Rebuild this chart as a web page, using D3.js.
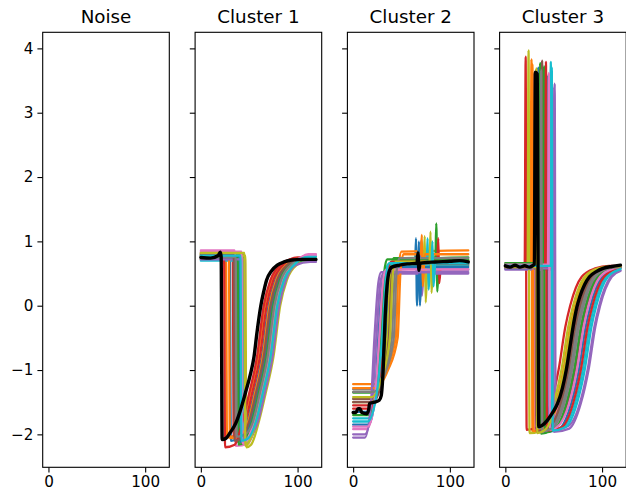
<!DOCTYPE html>
<html>
<head>
<meta charset="utf-8">
<script src="https://cdn.jsdelivr.net/npm/d3@7"></script>
<style>
html,body{margin:0;padding:0;background:#fff;}
svg{display:block;}
text{font-family:"DejaVu Sans",sans-serif;fill:#000;}
</style>
</head>
<body>
<svg id="chart" width="626" height="502"></svg>
<script>
// ---------------- DATA ----------------
const panelTitles = ["Noise", "Cluster 1", "Cluster 2", "Cluster 3"];
const xTicks = [0, 100];
const yTicks = [-2, -1, 0, 1, 2, 3, 4];
const xDomain = [-5.95, 124.95];
const yDomain = [-2.512, 4.25];

// Noise: no waveforms
const noiseLines = [];
const noiseMean = [];

// Cluster 1 waveforms ([sample, value] key points)
const cluster1Lines = [
  [[0,.78],[30,.78],[31,-2.10],[40,-2.06],[48,-1.8],[55,-1.36],[63,-0.8],[70,0],[77,.4],[87,.63],[102,.74],[119,.74]],
  [[0,.72],[26,.72],[27,-2.05],[36,-2.01],[44,-1.8],[51,-1.36],[59,-.8],[66,0],[73,.4],[83,.63],[98,.70],[119,.70]],
  [[0,.80],[44,.80],[45,-2.15],[50,-2.11],[58,-1.8],[65,-1.36],[73,-.8],[80,0],[87,.4],[97,.63],[112,.72],[119,.72]],
  [[0,.76],[33,.76],[34,-2.05],[38,-2.01],[46,-1.8],[53,-1.36],[61,-.8],[68,0],[75,.4],[85,.63],[100,.75],[119,.75]],
  [[0,.74],[37,.74],[38,-2.12],[46,-2.08],[54,-1.8],[61,-1.36],[69,-.8],[76,0],[83,.4],[93,.63],[108,.70],[119,.70]],
  [[0,.82],[41,.82],[42,-2.08],[47,-2.04],[55,-1.8],[62,-1.36],[70,-.8],[77,0],[84,.4],[94,.63],[109,.73],[119,.73]],
  [[0,.86],[35,.86],[36,-2.18],[49,-2.14],[57,-1.8],[64,-1.36],[72,-.8],[79,0],[86,.4],[96,.63],[111,.80],[119,.80]],
  [[0,.72],[39,.72],[40,-2.10],[44,-2.06],[52,-1.8],[59,-1.36],[67,-.8],[74,0],[81,.4],[91,.63],[106,.71],[119,.71]],
  [[0,.78],[46,.78],[47,-2.20],[52,-2.16],[60,-1.8],[67,-1.36],[75,-.8],[82,0],[89,.4],[99,.63],[114,.72],[119,.72]],
  [[0,.70],[43,.70],[44,-2.06],[48,-2.02],[56,-1.8],[63,-1.36],[71,-.8],[78,0],[85,.4],[95,.63],[110,.76],[119,.76]],
  [[0,.76],[40,.76],[41,-2.12],[44,-2.08],[51,-1.8],[58,-1.36],[66,-.8],[73,0],[80,.4],[90,.63],[105,.72],[119,.72]],
  [[0,.80],[29,.80],[30,-2.06],[41,-2.02],[49,-1.8],[56,-1.36],[64,-.8],[71,0],[78,.4],[88,.63],[103,.74],[119,.74]],
  [[0,.74],[38,.74],[39,-2.16],[45,-2.12],[53,-1.8],[60,-1.36],[68,-.8],[75,0],[82,.4],[92,.63],[107,.70],[119,.70]],
  [[0,.78],[24,.78],[25,-2.20],[35,-2.16],[43,-1.8],[50,-1.36],[58,-.8],[65,0],[72,.4],[82,.63],[97,.73],[119,.73]],
  [[0,.72],[45,.72],[46,-2.08],[51,-2.04],[59,-1.8],[66,-1.36],[74,-.8],[81,0],[88,.4],[98,.63],[113,.68],[119,.68]],
  [[0,.80],[34,.80],[35,-2.10],[42,-2.06],[50,-1.8],[57,-1.36],[65,-.8],[72,0],[79,.4],[89,.63],[104,.74],[119,.74]],
  [[0,.84],[42,.84],[43,-2.14],[47,-2.10],[55,-1.8],[62,-1.36],[70,-.8],[77,0],[84,.4],[94,.63],[109,.78],[119,.78]],
  [[0,.76],[36,.76],[37,-2.04],[46,-2.0],[54,-1.8],[61,-1.36],[69,-.8],[76,0],[83,.4],[93,.63],[108,.72],[119,.72]],
  [[0,.82],[45,.82],[46,-2.18],[49,-2.14],[57,-1.8],[64,-1.36],[72,-.8],[79,0],[86,.4],[96,.63],[111,.75],[119,.75]],
  [[0,.78],[41,.78],[42,-2.10],[49,-2.06],[57,-1.8],[64,-1.36],[72,-.8],[79,0],[86,.4],[96,.63],[111,.76],[119,.76]]
];
const cluster1Mean = [[0,.75],[10,.74],[18,.78],[20,.83],[21,.76],[22,-2.08],[26,-2.06],[30,-1.98],[36,-1.83],[41,-1.62],[46,-1.36],[51,-1.08],[55,-0.79],[58,-0.42],[62,0],[65,0.22],[68,0.40],[73,0.54],[79,0.63],[86,0.68],[94,0.71],[105,0.72],[119,0.72]];

// Cluster 2 waveforms
const cluster2Lines = [
  [[0,-1.85],[16,-1.85],[22,-1.5],[26,-0.5],[30,0.35],[33,0.55],[64,0.58],[65,1.05],[66,0.0],[68,0.56],[119,0.56]],
  [[0,-1.22],[22,-1.22],[34,-1.0],[44,-0.5],[47,0.6],[50,0.84],[119,0.86]],
  [[0,-1.35],[20,-1.35],[29,-1.05],[36,-0.5],[39,0.5],[42,0.74],[85,0.75],[86,1.28],[87,0.22],[89,0.74],[119,0.75]],
  [[0,-1.55],[18,-1.55],[26,-1.2],[31,-0.5],[34,0.45],[37,0.65],[87,0.66],[88,1.05],[89,0.35],[91,0.66],[119,0.66]],
  [[0,-2.0],[12,-2.0],[19,-1.6],[24,-0.5],[28,0.35],[31,0.5],[69,0.5],[70,1.0],[71,0.15],[73,0.5],[119,0.5]],
  [[0,-1.45],[19,-1.45],[28,-1.1],[34,-0.5],[37,0.45],[40,0.62],[119,0.62]],
  [[0,-1.92],[14,-1.92],[22,-1.5],[28,-0.5],[32,0.4],[35,0.58],[119,0.58]],
  [[0,-1.3],[21,-1.3],[32,-1.05],[40,-0.5],[43,0.5],[46,0.7],[119,0.7]],
  [[0,-1.5],[18,-1.5],[28,-1.15],[35,-0.5],[38,0.45],[41,0.7],[73,0.7],[74,1.08],[75,0.05],[77,0.68],[119,0.7]],
  [[0,-1.75],[16,-1.75],[24,-1.35],[30,-0.5],[33,0.45],[36,0.64],[76,0.64],[77,1.05],[78,0.25],[80,0.64],[119,0.64]],
  [[0,-1.65],[17,-1.65],[26,-1.25],[33,-0.5],[36,0.42],[38,0.6],[67,0.6],[68,1.0],[69,0.0],[71,0.6],[119,0.6]],
  [[0,-1.28],[22,-1.28],[36,-1.0],[46,-0.5],[49,0.55],[52,0.8],[70,0.8],[71,1.1],[72,0.3],[74,0.8],[119,0.8]],
  [[0,-1.7],[16,-1.7],[24,-1.3],[29,-0.5],[32,0.5],[35,0.72],[119,0.72]],
  [[0,-1.6],[18,-1.6],[26,-1.2],[32,-0.5],[36,0.5],[39,0.68],[119,0.68]],
  [[0,-2.05],[12,-2.05],[18,-1.6],[22,-0.5],[26,0.35],[29,0.52],[119,0.52]],
  [[0,-1.5],[20,-1.5],[30,-1.15],[37,-0.5],[40,0.45],[43,0.65],[119,0.65]],
  [[0,-1.88],[15,-1.88],[22,-1.5],[27,-0.5],[31,0.4],[34,0.56],[119,0.56]],
  [[0,-1.34],[21,-1.34],[33,-1.05],[42,-0.5],[45,0.55],[48,0.74],[119,0.74]],
  [[0,-1.42],[19,-1.42],[30,-1.1],[38,-0.5],[41,0.5],[44,0.68],[79,0.68],[80,1.15],[81,0.2],[83,0.68],[119,0.68]],
  [[0,-1.8],[15,-1.8],[24,-1.4],[30,-0.5],[34,0.45],[37,0.66],[81,0.66],[82,1.0],[83,0.3],[85,0.66],[119,0.66]]
];
const cluster2Mean = [[0,-1.66],[3,-1.66],[5,-1.6],[7,-1.6],[9,-1.66],[14,-1.68],[16,-1.62],[17,-1.52],[22,-1.5],[27,-1.47],[29,-1.4],[31,-1.0],[33,-0.2],[35,0.3],[37,0.52],[40,0.6],[48,0.63],[56,0.65],[66,0.66],[67,0.82],[68,0.55],[69,0.66],[85,0.68],[100,0.69],[110,0.7],[119,0.68]];

// Cluster 3 waveforms
const cluster3Lines = [
  [[0,.62],[33,.62],[34,3.70],[35,-1.95],[48,-1.9],[60,-1.52],[68,-1.0],[75,-.33],[80,0],[92,.45],[106,.58],[119,.6]],
  [[0,.58],[26,.58],[27,3.83],[28,-1.96],[40,-1.91],[52,-1.52],[60,-1.0],[67,-.33],[72,0],[84,.45],[98,.58],[112,.61],[119,.61]],
  [[0,.60],[35,.60],[36,3.77],[37,-1.99],[46,-1.94],[58,-1.52],[66,-1.0],[73,-.33],[78,0],[90,.45],[104,.58],[118,.6],[119,.6]],
  [[0,.64],[20,.64],[21,3.87],[22,-1.93],[35,-1.88],[47,-1.52],[55,-1.0],[62,-.33],[67,0],[79,.45],[93,.58],[107,.62],[119,.62]],
  [[0,.56],[50,.56],[51,3.45],[52,-1.92],[65,-1.87],[77,-1.52],[85,-1.0],[92,-.33],[97,0],[109,.45],[119,.55]],
  [[0,.62],[37,.62],[38,3.81],[39,-1.95],[52,-1.9],[64,-1.52],[72,-1.0],[79,-.33],[84,0],[96,.45],[110,.58],[119,.6]],
  [[0,.66],[28,.66],[29,3.60],[30,-1.94],[44,-1.89],[56,-1.52],[64,-1.0],[71,-.33],[76,0],[88,.45],[102,.58],[116,.62],[119,.62]],
  [[0,.60],[32,.60],[33,3.65],[34,-1.97],[47,-1.92],[59,-1.52],[67,-1.0],[74,-.33],[79,0],[91,.45],[105,.58],[119,.6]],
  [[0,.62],[23,.62],[24,3.97],[25,-1.98],[38,-1.93],[50,-1.52],[58,-1.0],[65,-.33],[70,0],[82,.45],[96,.58],[110,.61],[119,.61]],
  [[0,.64],[46,.64],[47,3.79],[48,-1.93],[60,-1.88],[72,-1.52],[80,-1.0],[87,-.33],[92,0],[104,.45],[118,.58],[119,.58]],
  [[0,.58],[42,.58],[43,3.58],[44,-1.96],[56,-1.91],[68,-1.52],[76,-1.0],[83,-.33],[88,0],[100,.45],[114,.58],[119,.59]],
  [[0,.62],[27,.62],[28,3.75],[29,-1.95],[42,-1.9],[54,-1.52],[62,-1.0],[69,-.33],[74,0],[86,.45],[100,.58],[114,.61],[119,.61]],
  [[0,.66],[39,.66],[40,3.72],[41,-1.97],[51,-1.92],[63,-1.52],[71,-1.0],[78,-.33],[83,0],[95,.45],[109,.58],[119,.6]],
  [[0,.62],[41,.62],[42,3.79],[43,-1.94],[58,-1.89],[70,-1.52],[78,-1.0],[85,-.33],[90,0],[102,.45],[116,.58],[119,.59]],
  [[0,.58],[48,.58],[49,3.40],[50,-1.96],[66,-1.91],[78,-1.52],[86,-1.0],[93,-.33],[98,0],[110,.45],[119,.54]],
  [[0,.60],[30,.60],[31,3.55],[32,-1.95],[45,-1.9],[57,-1.52],[65,-1.0],[72,-.33],[77,0],[89,.45],[103,.58],[117,.6],[119,.6]],
  [[0,.64],[44,.64],[45,3.62],[46,-1.93],[54,-1.88],[66,-1.52],[74,-1.0],[81,-.33],[86,0],[98,.45],[112,.58],[119,.6]],
  [[0,.62],[36,.62],[37,3.66],[38,-1.95],[49,-1.9],[61,-1.52],[69,-1.0],[76,-.33],[81,0],[93,.45],[107,.58],[119,.6]],
  [[0,.60],[31,.60],[32,3.69],[33,-1.98],[41,-1.93],[53,-1.52],[61,-1.0],[68,-.33],[73,0],[85,.45],[99,.58],[113,.61],[119,.61]],
  [[0,.62],[47,.62],[48,3.70],[49,-1.94],[62,-1.89],[74,-1.52],[82,-1.0],[89,-.33],[94,0],[106,.45],[119,.57]]
];
const cluster3Mean = [[0,.62],[5,.6],[10,.63],[15,.6],[20,.62],[25,.6],[29,.63],[30,.64],[31,3.63],[33,3.6],[34.5,-1.88],[38,-1.86],[44,-1.77],[49,-1.66],[54,-1.52],[59,-1.28],[63,-1.0],[67,-0.62],[70,-0.33],[74,-0.02],[77,0.14],[82,0.33],[87,0.45],[94,0.53],[101,0.58],[110,0.61],[119,0.63]];

const panelLines = [noiseLines, cluster1Lines, cluster2Lines, cluster3Lines];
const panelMeans = [noiseMean, cluster1Mean, cluster2Mean, cluster3Mean];

// ---------------- LAYOUT ----------------
const palette = d3.schemeCategory10;
const panelLefts = [42.7, 195.1, 347.4, 499.6];
const panelW = 126.6;
const axTop = 32.3, axBottom = 467.3;
const svg = d3.select("#chart");
svg.append("rect").attr("width", 626).attr("height", 502).attr("fill", "#fff");

const yScale = d3.scaleLinear().domain(yDomain).range([axBottom, axTop]);

panelTitles.forEach((title, i) => {
  const left = panelLefts[i];
  const xScale = d3.scaleLinear().domain(xDomain).range([left, left + panelW]);
  const g = svg.append("g");
  const clipId = "clip" + i;
  svg.append("clipPath").attr("id", clipId)
    .append("rect").attr("x", left).attr("y", axTop).attr("width", panelW).attr("height", axBottom - axTop);

  const line = d3.line().x(d => xScale(d[0])).y(d => yScale(d[1])).curve(d3.curveMonotoneX);
  const lg = g.append("g").attr("clip-path", `url(#${clipId})`);
  panelLines[i].forEach((pts, k) => {
    lg.append("path").attr("d", line(pts)).attr("fill", "none")
      .attr("stroke", palette[k % 10]).attr("stroke-width", 2.3)
      .attr("stroke-linejoin", "round").attr("stroke-linecap", "round");
  });
  if (panelMeans[i].length) {
    lg.append("path").attr("d", line(panelMeans[i])).attr("fill", "none")
      .attr("stroke", "#000").attr("stroke-width", 3.4)
      .attr("stroke-linejoin", "round").attr("stroke-linecap", "round");
  }

  const xAxis = d3.axisBottom(xScale).tickValues(xTicks).tickSize(5.3).tickPadding(4);
  const xg = g.append("g").attr("transform", `translate(0,${axBottom})`).call(xAxis);
  const yAxis = d3.axisLeft(yScale).tickValues(yTicks).tickSize(5.3).tickPadding(4)
    .tickFormat(i === 0 ? (d => d < 0 ? "\u2212" + Math.abs(d) : String(d)) : () => "");
  const yg = g.append("g").attr("transform", `translate(${left},0)`).call(yAxis);
  [xg, yg].forEach(a => {
    a.select(".domain").remove();
    a.selectAll(".tick line").attr("stroke", "#000").attr("stroke-width", 1.1);
    a.selectAll("text").attr("font-family", "DejaVu Sans").attr("font-size", 15.2).attr("fill", "#000");
  });

  g.append("rect").attr("x", left).attr("y", axTop).attr("width", panelW).attr("height", axBottom - axTop)
    .attr("fill", "none").attr("stroke", "#000").attr("stroke-width", 1.1);

  g.append("text").attr("x", left + panelW / 2).attr("y", axTop - 9.5)
    .attr("text-anchor", "middle").attr("font-size", 18.3).text(title);
});
</script>
</body>
</html>
